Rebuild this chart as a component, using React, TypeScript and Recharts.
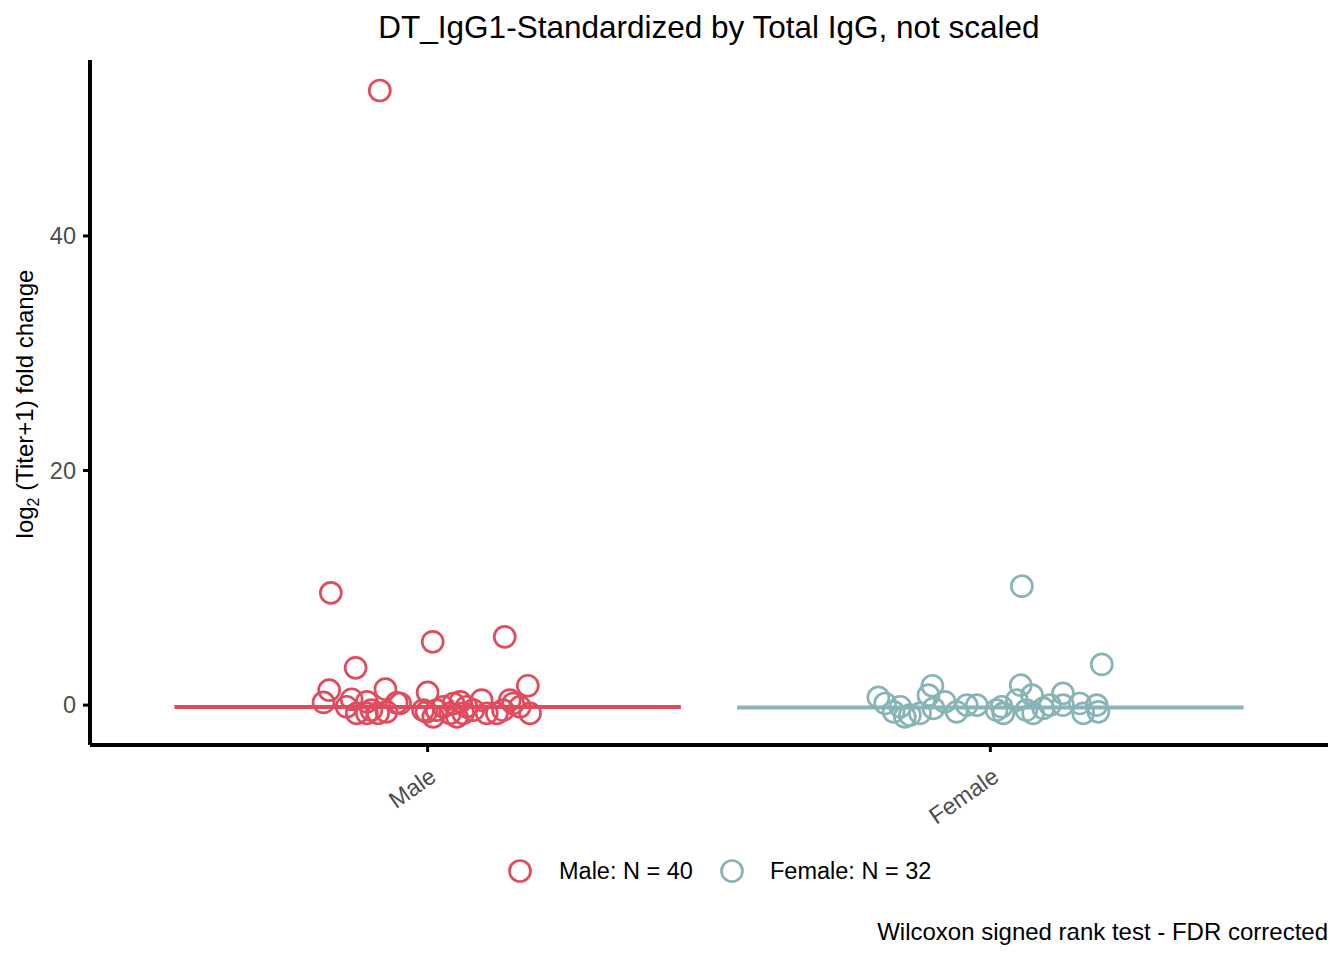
import React from 'react';
import { ScatterChart, Scatter, XAxis, YAxis, ReferenceLine } from 'recharts';

// jittered x positions (1 = Male, 2 = Female) and log2 fold change
const maleX = [
  0.828, 0.915, 1.009, 1.137, 0.872, 1.178, 0.825, 0.925, 1.0, 0.815,
  0.865, 0.892, 0.945, 0.874, 0.912, 0.927, 0.998, 1.01, 1.028, 1.046,
  1.058, 1.063, 1.081, 1.096, 1.105, 1.123, 1.152, 1.164, 1.182, 0.856,
  0.9, 0.951, 0.992, 1.016, 1.04, 1.069, 1.134, 1.146, 0.892, 1.052,
];
const maleY = [
  9.57, 52.4, 5.4, 5.82, 3.18, 1.65, 1.28, 1.36, 1.08, 0.23,
  0.5, 0.28, 0.2, -0.7, -0.7, -0.57, -0.57, -1.0, -0.14, 0.14,
  0.28, -0.7, -0.43, 0.43, -0.7, -0.7, 0.14, -0.14, -0.7, -0.14,
  -0.43, 0.14, -0.43, -0.43, -0.7, -0.14, -0.43, 0.43, -0.7, -1.0,
];
const femaleX = [
  2.056, 2.198, 2.054, 1.897, 2.129, 1.801, 1.89, 2.074, 1.919, 1.813,
  1.84, 1.828, 1.857, 1.875, 1.899, 1.94, 1.958, 1.976, 2.02, 2.023,
  2.047, 2.064, 2.076, 2.094, 2.106, 2.129, 2.159, 2.165, 2.189, 2.192,
  2.011, 1.848,
];
const femaleY = [
  10.14, 3.47, 1.7, 1.65, 1.0, 0.66, 0.85, 0.85, 0.28, 0.14,
  -0.14, -0.57, -0.85, -0.7, -0.28, -0.57, 0, 0, -0.14, -0.7,
  0.43, -0.43, -0.7, -0.28, 0, 0, 0.14, -0.7, 0, -0.57,
  -0.43, -1.0,
];

const categories = ['Male', 'Female'];
const medians = [-0.17, -0.2];
const counts = [40, 32];
const yTicks = [0, 20, 40];

const colors = ['#E04C5E', '#88B4B7'];
const font = '"Liberation Sans", Arial, sans-serif';

const maleData = maleX.map((x, i) => ({ x, y: maleY[i] }));
const femaleData = femaleX.map((x, i) => ({ x, y: femaleY[i] }));

const ring = (color: string) => (props: any) => (
  <circle cx={props.cx} cy={props.cy} r={10.5} fill="none" stroke={color} strokeWidth={2.7} />
);

const XTick = (props: any) => {
  const { x, y, payload } = props;
  const ax = x + 10;
  const ay = y + 26;
  return (
    <text
      x={ax}
      y={ay}
      textAnchor="end"
      transform={`rotate(-35 ${ax} ${ay})`}
      fill="#4D4D4D"
      fontSize={23.5}
      fontFamily={font}
    >
      {categories[payload.value - 1]}
    </text>
  );
};

const legendPos = [
  { circle: 520, text: 559 },
  { circle: 732, text: 770 },
];

const App: React.FC = () => {
  return (
    <div style={{ position: 'relative', width: 1344, height: 960, background: '#fff', fontFamily: font }}>
      <style>{'body{margin:0}'}</style>
      <div style={{ position: 'absolute', left: 90, width: 1238, top: 9, textAlign: 'center', fontSize: 31.5, color: '#000', whiteSpace: 'nowrap' }}>
        DT_IgG1-Standardized by Total IgG, not scaled
      </div>
      <div
        style={{
          position: 'absolute',
          left: 27,
          top: 404,
          transform: 'translate(-50%, -50%) rotate(-90deg)',
          whiteSpace: 'nowrap',
          fontSize: 24,
          color: '#000',
        }}
      >
        log<sub style={{ fontSize: 16 }}>2</sub> (Titer+1) fold change
      </div>

      <ScatterChart width={1344} height={960} margin={{ top: 60, right: 16, bottom: 120, left: 0 }}>
        <XAxis
          type="number"
          dataKey="x"
          domain={[0.4, 2.6]}
          ticks={[1, 2]}
          allowDataOverflow
          height={95}
          axisLine={{ stroke: '#000', strokeWidth: 4 }}
          tickLine={{ stroke: '#000', strokeWidth: 3 }}
          tickSize={7}
          tick={<XTick />}
        />
        <YAxis
          type="number"
          dataKey="y"
          domain={[-3.4, 55]}
          ticks={yTicks}
          allowDataOverflow
          width={90}
          axisLine={{ stroke: '#000', strokeWidth: 4 }}
          tickLine={{ stroke: '#000', strokeWidth: 3 }}
          tickSize={7}
          tickMargin={7}
          tick={{ fill: '#4D4D4D', fontSize: 23.5, fontFamily: font }}
        />
        <Scatter data={maleData} shape={ring(colors[0])} isAnimationActive={false} />
        <Scatter data={femaleData} shape={ring(colors[1])} isAnimationActive={false} />
        {medians.map((m, i) => (
          <ReferenceLine
            key={categories[i]}
            segment={[
              { x: i + 1 - 0.45, y: m },
              { x: i + 1 + 0.45, y: m },
            ]}
            stroke={colors[i]}
            strokeWidth={4}
          />
        ))}
      </ScatterChart>

      {categories.map((c, i) => (
        <React.Fragment key={c}>
          <svg width={28} height={28} style={{ position: 'absolute', left: legendPos[i].circle - 14, top: 857 }}>
            <circle cx={14} cy={14} r={10.5} fill="none" stroke={colors[i]} strokeWidth={2.7} />
          </svg>
          <div style={{ position: 'absolute', left: legendPos[i].text, top: 858, fontSize: 23.5, color: '#000', whiteSpace: 'nowrap' }}>
            {`${c}: N = ${counts[i]}`}
          </div>
        </React.Fragment>
      ))}

      <div style={{ position: 'absolute', right: 16, top: 918, fontSize: 24, color: '#000', whiteSpace: 'nowrap' }}>
        Wilcoxon signed rank test - FDR corrected
      </div>
    </div>
  );
};

export default App;
